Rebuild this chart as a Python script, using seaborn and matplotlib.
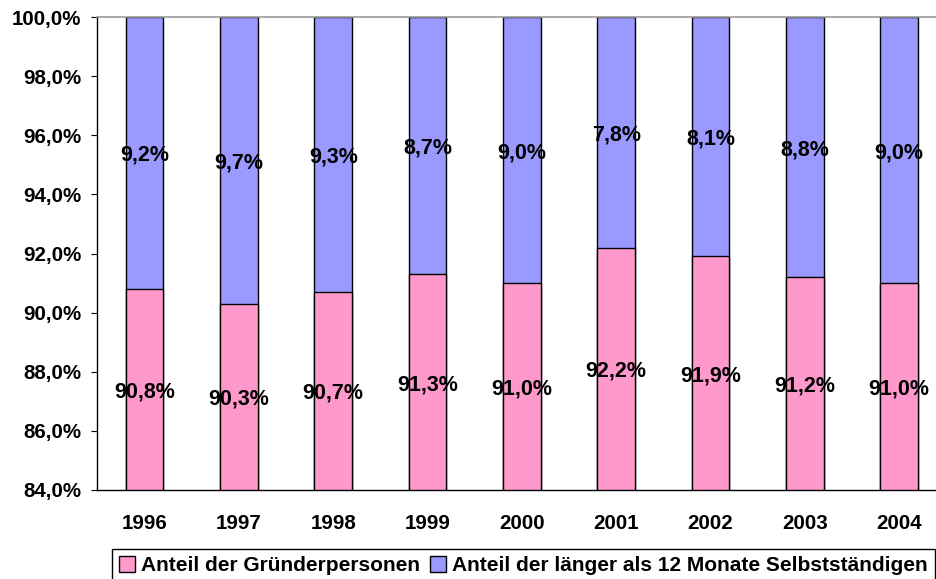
import matplotlib
matplotlib.use("Agg")
import matplotlib.pyplot as plt
from matplotlib.patches import Patch
from matplotlib.transforms import offset_copy
import seaborn as sns
import numpy as np
import pandas as pd

years = ["1996", "1997", "1998", "1999", "2000", "2001", "2002", "2003", "2004"]
gruender = [90.8, 90.3, 90.7, 91.3, 91.0, 92.2, 91.9, 91.2, 91.0]
laenger = [9.2, 9.7, 9.3, 8.7, 9.0, 7.8, 8.1, 8.8, 9.0]
y_ticks = [84, 86, 88, 90, 92, 94, 96, 98, 100]

label_g = "Anteil der Gründerpersonen"
label_l = "Anteil der länger als 12 Monate Selbstständigen"
pink = "#FF99CC"
blue = "#9999FF"

sns.set_style("white")
plt.rcParams["font.family"] = ["Liberation Sans", "DejaVu Sans"]
plt.rcParams["font.weight"] = "bold"
plt.rcParams["text.color"] = "black"
plt.rcParams["xtick.color"] = "black"
plt.rcParams["ytick.color"] = "black"
plt.rcParams["axes.labelcolor"] = "black"

df = pd.DataFrame({"Jahr": years, "g": gruender, "l": laenger})
df["total"] = df["g"] + df["l"]


def pct(v):
    return f"{v:.1f}%".replace(".", ",")


W, H = 936, 579
fig = plt.figure(figsize=(W / 100, H / 100), dpi=100)
ax = fig.add_axes([97.4 / W, 89 / H, (946.3 - 97.4) / W, (490 - 17) / H])

# stacked bars: total height in blue, the founders' share drawn over it in pink
sns.barplot(data=df, x="Jahr", y="total", color=blue, saturation=1,
            width=0.4, edgecolor="black", linewidth=1.0, ax=ax)
sns.barplot(data=df, x="Jahr", y="g", color=pink, saturation=1,
            width=0.4, edgecolor="black", linewidth=1.0, ax=ax)

ax.set_ylim(84, 100)
ax.set_xlim(-0.5, len(years) - 0.5)
ax.set_yticks(y_ticks)
ax.set_yticklabels([pct(v) for v in y_ticks], fontsize=14.8, fontweight="bold",
                   color="black")
ax.set_xticks(np.arange(len(years)))
ax.set_xticklabels(years, fontsize=14.8, fontweight="bold", color="black")
ax.set_xlabel("")
ax.set_ylabel("")

# category boundary ticks on the x axis
ax.set_xticks(np.arange(len(years) + 1) - 0.5, minor=True)
ax.tick_params(axis="x", which="major", length=0, pad=17)
ax.tick_params(axis="x", which="minor", length=4, width=0.8, color="black",
               direction="out")
ax.tick_params(axis="y", which="major", length=4.3, width=0.8, color="black",
               direction="out", pad=7.2, left=True)

for s in ["left", "bottom"]:
    ax.spines[s].set_color("black")
    ax.spines[s].set_linewidth(1.0)
ax.spines["top"].set_color("#999999")
ax.spines["top"].set_linewidth(1.2)
ax.spines["right"].set_visible(False)

# value labels centred in the visible part of each segment
lo, hi = ax.get_ylim()
tr = offset_copy(ax.transData, fig=fig, x=0, y=-2.5, units="dots")
for i, (g, l) in enumerate(zip(gruender, laenger)):
    ax.text(i, (lo + g) / 2, pct(g), ha="center", va="center",
            fontsize=15.5, fontweight="bold", color="black", transform=tr)
    ax.text(i, (g + min(g + l, hi)) / 2, pct(l), ha="center", va="center",
            fontsize=15.5, fontweight="bold", color="black", transform=tr)

handles = [Patch(facecolor=pink, edgecolor="black", linewidth=1),
           Patch(facecolor=blue, edgecolor="black", linewidth=1)]
leg = fig.legend(handles, [label_g, label_l], loc="upper right",
                 bbox_to_anchor=(935 / W, (H - 549) / H), ncol=2,
                 frameon=True, fancybox=False, framealpha=1, borderpad=0.35,
                 handlelength=0.75, handleheight=0.75, handletextpad=0.3,
                 columnspacing=0.5, borderaxespad=0,
                 prop={"size": 15, "weight": "bold"})
leg.get_frame().set_edgecolor("black")
leg.get_frame().set_linewidth(1)
for t in leg.get_texts():
    t.set_color("black")

fig.savefig("out.png", dpi=100)
